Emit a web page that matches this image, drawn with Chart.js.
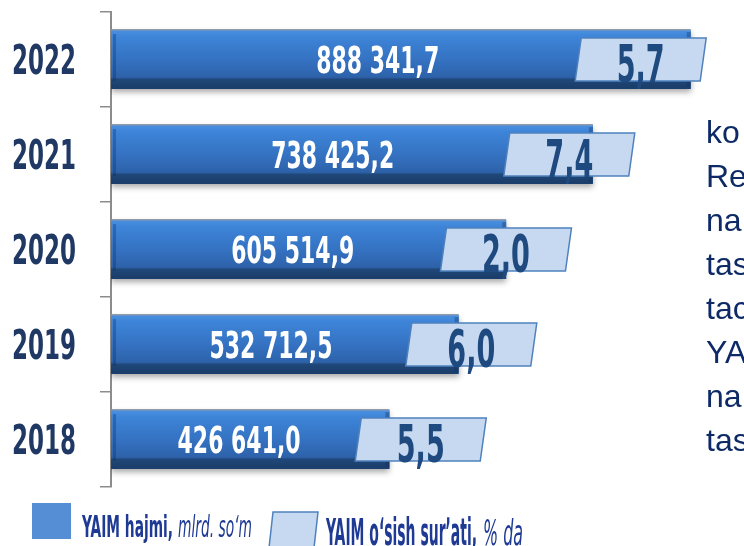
<!DOCTYPE html>
<html>
<head>
<meta charset="utf-8">
<script src="https://cdn.jsdelivr.net/npm/chart.js@4"></script>
<style>
  html, body { margin: 0; padding: 0; background: #fff; overflow: hidden; }
  #wrap { position: relative; width: 744px; height: 546px; }
  #side { position: absolute; left: 706px; top: 110px; font-family: 'Liberation Sans', Arial, sans-serif;
          font-size: 32px; line-height: 44px; color: #0d2a66; white-space: nowrap; }
</style>
</head>
<body>
<div id="wrap">
  <canvas id="gdp_chart" width="744" height="546"></canvas>
  <div id="side">ko<br>Re<br>na<br>tas<br>tac<br>YA<br>na<br>tas</div>
</div>
<script>
const NARROW = '"DejaVu Sans Condensed", "Liberation Sans", sans-serif';
const years = ['2022', '2021', '2020', '2019', '2018'];
const gdpValues = [888341.7, 738425.2, 605514.9, 532712.5, 426641.0]; // mlrd. so'm
const growthValues = [5.7, 7.4, 2.0, 6.0, 5.5]; // % da

function fmt(v, dec) {
  const parts = v.toFixed(dec).split('.');
  const int = parts[0].replace(/\B(?=(\d{3})+(?!\d))/g, ' ');
  return parts[1] ? int + ',' + parts[1] : int;
}

// text squeezed horizontally so the plain fonts look like the condensed original
function squeezed(ctx, text, x, y, font, color, sx, align) {
  ctx.save();
  ctx.font = font;
  const w = ctx.measureText(text).width * sx;
  let left = x;
  if (align === 'center') left = x - w / 2;
  if (align === 'right') left = x - w;
  ctx.translate(left, y);
  ctx.scale(sx, 1);
  ctx.fillStyle = color;
  ctx.textAlign = 'left';
  ctx.textBaseline = 'alphabetic';
  ctx.fillText(text, 0, 0);
  ctx.restore();
  return w;
}
function fitScale(ctx, sample, font, width) {
  ctx.save();
  ctx.font = font;
  const s = width / ctx.measureText(sample).width;
  ctx.restore();
  return s;
}

const barLook = {
  id: 'barLook',
  beforeDatasetsDraw(chart) {
    const ctx = chart.ctx;
    ctx.save();
    ctx.shadowColor = 'rgba(0,0,0,0.35)';
    ctx.shadowBlur = 6;
    ctx.shadowOffsetY = 3;
  },
  afterDatasetsDraw(chart) {
    const ctx = chart.ctx;
    ctx.restore();
    const meta = chart.getDatasetMeta(0);
    const valFont = 'bold 37px ' + NARROW;
    const growFont = 'bold 52px ' + NARROW;
    const valSx = fitScale(ctx, '000 000,0', valFont, 123);
    const growSx = fitScale(ctx, '0,0', growFont, 48);
    meta.data.forEach((el, i) => {
      const left = el.base, right = el.x, h = el.height, top = el.y - h / 2;
      const len = right - left;
      // glossy bar body
      const g = ctx.createLinearGradient(0, top, 0, top + h);
      g.addColorStop(0, '#4a90e2');
      g.addColorStop(0.12, '#3d84d8');
      g.addColorStop(0.5, '#3572c2');
      g.addColorStop(0.8, '#2d62aa');
      g.addColorStop(0.84, '#1f4778');
      g.addColorStop(1, '#1a3c68');
      ctx.fillStyle = g;
      ctx.fillRect(left, top, len, h);
      ctx.fillStyle = 'rgba(20,45,90,0.35)';
      ctx.fillRect(left + 2, top + 4, 3, h - 12);
      ctx.fillRect(right - 4, top + 2, 4, h - 4);
      ctx.fillStyle = '#8a98aa';
      ctx.fillRect(left, top - 1, len, 1.5);
      // value label
      squeezed(ctx, fmt(gdpValues[i], 1), left + len * 0.46, el.y + 13, valFont, '#ffffff', valSx, 'center');
      // growth box (parallelogram)
      const bxR = left + len * 0.73 + 166;
      const bw = 125, bh = 43, sk = 6;
      const bt = el.y - bh / 2, bb = el.y + bh / 2;
      ctx.beginPath();
      ctx.moveTo(bxR - bw, bb);
      ctx.lineTo(bxR - bw + sk, bt);
      ctx.lineTo(bxR + sk, bt);
      ctx.lineTo(bxR, bb);
      ctx.closePath();
      ctx.fillStyle = '#c6d9f0';
      ctx.fill();
      ctx.lineWidth = 1.5;
      ctx.strokeStyle = '#4f81bd';
      ctx.stroke();
      squeezed(ctx, fmt(growthValues[i], 1), bxR - bw / 2 + sk / 2, bb + 1, growFont, '#1f4a80', growSx, 'center');
    });
  },
  afterDraw(chart) {
    const ctx = chart.ctx;
    // year labels from the category scale
    const ys = chart.scales.y;
    const yearFont = 'bold 40px ' + NARROW;
    const yearSx = fitScale(ctx, '2022', yearFont, 64);
    ys.ticks.forEach((t, i) => {
      squeezed(ctx, ys.getLabelForValue(t.value), 76, ys.getPixelForTick(i) + 14.5, yearFont, '#1f3864', yearSx, 'right');
    });
    // legend
    ctx.fillStyle = '#558ed5';
    ctx.fillRect(32, 503, 39, 36);
    const f1 = 'bold 31px ' + NARROW;
    const f1i = 'italic 30px ' + NARROW;
    let x = 82;
    x += squeezed(ctx, 'YAIM hajmi,', x, 537, f1, '#1e3a94', fitScale(ctx, 'YAIM hajmi,', f1, 91));
    squeezed(ctx, 'mlrd. so‘m', x + 5, 537, f1i, '#1e3a94', fitScale(ctx, 'mlrd. so‘m', f1i, 74));
    ctx.beginPath();
    ctx.moveTo(269, 548);
    ctx.lineTo(273, 512);
    ctx.lineTo(318, 512);
    ctx.lineTo(314, 548);
    ctx.closePath();
    ctx.fillStyle = '#c6d9f0';
    ctx.fill();
    ctx.lineWidth = 1.5;
    ctx.strokeStyle = '#4f81bd';
    ctx.stroke();
    const f2 = 'bold 37px ' + NARROW;
    const f2i = 'italic 36px ' + NARROW;
    x = 326;
    x += squeezed(ctx, 'YAIM oʻsish surʼati,', x, 545, f2, '#1e3a94', fitScale(ctx, 'YAIM oʻsish surʼati,', f2, 151));
    squeezed(ctx, '% da', x + 6, 545, f2i, '#1e3a94', fitScale(ctx, '% da', f2i, 40));
  }
};

const ctxBAR_gdp = document.getElementById('gdp_chart');
const chart_gdp = new Chart(ctxBAR_gdp, {
  type: 'bar',
  data: {
    labels: years,
    datasets: [{
      label: 'YAIM hajmi, mlrd. so‘m',
      data: gdpValues,
      backgroundColor: '#3572c2',
      borderWidth: 0,
      categoryPercentage: 1,
      barPercentage: 0.62,
    }],
  },
  options: {
    indexAxis: 'y',
    responsive: false,
    animation: false,
    layout: { padding: { top: 12, bottom: 59, left: 0, right: 0 } },
    plugins: { legend: { display: false }, tooltip: { enabled: false } },
    scales: {
      x: { display: false, min: 0, max: 970000 },
      y: {
        afterFit: (s) => { s.width = 111; },
        grid: { drawOnChartArea: false, drawTicks: true, tickLength: 11, color: '#8c8c8c', lineWidth: 1.5 },
        border: { display: true, color: '#8c8c8c', width: 2 },
        ticks: { display: false },
      },
    },
  },
  plugins: [barLook],
});
</script>
</body>
</html>
